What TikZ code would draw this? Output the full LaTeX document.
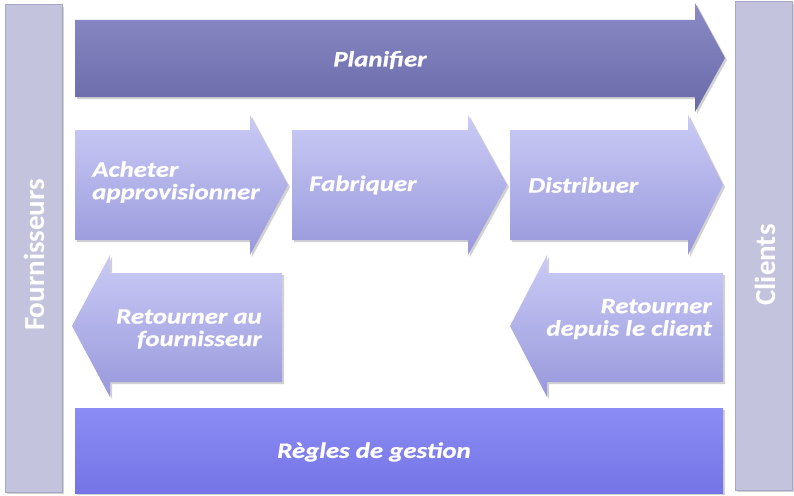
\documentclass[tikz,border=0pt]{standalone}
\usepackage{fontspec}
\setmainfont{Carlito}
\newfontfamily\wideface{Carlito}[FakeStretch=1.22, FakeBold=0.8]
\begin{document}
\definecolor{planTop}{HTML}{8A8AC6}
\definecolor{planBot}{HTML}{6A6AA9}
\definecolor{stepTop}{HTML}{CBCBF6}
\definecolor{stepBot}{HTML}{9898DC}
\definecolor{ruleTop}{HTML}{8C8CF5}
\definecolor{ruleBot}{HTML}{7474E6}
\definecolor{barFill}{HTML}{C3C3DD}
\definecolor{barEdge}{HTML}{A6A6C6}
\tikzset{
  shadowfill/.style={fill=black, opacity=0.18},
  planshade/.style={top color=planTop, bottom color=planBot},
  stepshade/.style={top color=stepTop, bottom color=stepBot},
  ruleshade/.style={top color=ruleTop, bottom color=ruleBot},
  sidebar/.style={fill=barFill, draw=barEdge, line width=1pt},
  lbl/.style={text=white, font=\wideface\bfseries\itshape\fontsize{22}{22.5}\selectfont, inner sep=0pt},
  sidelbl/.style={text=white, font=\bfseries\fontsize{29}{29}\selectfont, inner sep=0pt, rotate=90},
}
\begin{tikzpicture}[x=1pt, y=-1pt]
\useasboundingbox (0,0) rectangle (794,495);
\fill[white] (0,0) rectangle (794,495);

% side bars
\fill[shadowfill] (7,7) rectangle (64,494);
\draw[sidebar] (5,5) rectangle (62,492);
\fill[shadowfill] (737,4) rectangle (794,492);
\draw[sidebar] (735,2) rectangle (792,490);

% planning arrow
\fill[shadowfill, shift={(2,2)}] (75,20) -- (695,20) -- (695,3) -- (725,58) -- (695,112) -- (695,97) -- (75,97) -- cycle;
\shade[planshade] (75,20) -- (695,20) -- (695,3) -- (725,58) -- (695,112) -- (695,97) -- (75,97) -- cycle;

% forward process steps
\fill[shadowfill, shift={(2,2)}] (75,130) -- (250,130) -- (250,115) -- (288,185) -- (250,255) -- (250,240) -- (75,240) -- cycle;
\shade[stepshade] (75,130) -- (250,130) -- (250,115) -- (288,185) -- (250,255) -- (250,240) -- (75,240) -- cycle;
\fill[shadowfill, shift={(2,2)}] (292,130) -- (468,130) -- (468,115) -- (507,185) -- (468,255) -- (468,240) -- (292,240) -- cycle;
\shade[stepshade] (292,130) -- (468,130) -- (468,115) -- (507,185) -- (468,255) -- (468,240) -- (292,240) -- cycle;
\fill[shadowfill, shift={(2,2)}] (510,130) -- (688,130) -- (688,115) -- (723,185) -- (688,255) -- (688,240) -- (510,240) -- cycle;
\shade[stepshade] (510,130) -- (688,130) -- (688,115) -- (723,185) -- (688,255) -- (688,240) -- (510,240) -- cycle;

% return steps
\fill[shadowfill, shift={(2,2)}] (282,273) -- (110,273) -- (110,255) -- (72,326) -- (110,397) -- (110,382) -- (282,382) -- cycle;
\shade[stepshade] (282,273) -- (110,273) -- (110,255) -- (72,326) -- (110,397) -- (110,382) -- (282,382) -- cycle;
\fill[shadowfill, shift={(2,2)}] (723,273) -- (547,273) -- (547,255) -- (510,326) -- (547,397) -- (547,382) -- (723,382) -- cycle;
\shade[stepshade] (723,273) -- (547,273) -- (547,255) -- (510,326) -- (547,397) -- (547,382) -- (723,382) -- cycle;

% business rules band
\fill[shadowfill] (77,410) rectangle (725,495);
\shade[ruleshade] (75,408) rectangle (723,493);

% labels
\node[lbl] (plan) at (380,60) {Planifier};
\node[lbl, anchor=west, align=left] (buy) at (92,182) {Acheter\\approvisionner};
\node[lbl, anchor=west] (make) at (309,185) {Fabriquer};
\node[lbl, anchor=west] (deliver) at (528,185) {Distribuer};
\node[lbl, anchor=east, align=right] (retsup) at (262,329) {Retourner au\\fournisseur};
\node[lbl, anchor=east, align=right] (retcli) at (712,319) {Retourner\\depuis le client};
\node[lbl] (rules) at (374,452) {Règles de gestion};

\node[sidelbl] (suppliers) at (34,255) {Fournisseurs};
\node[sidelbl] (clients) at (765,265) {Clients};
\end{tikzpicture}
\end{document}
